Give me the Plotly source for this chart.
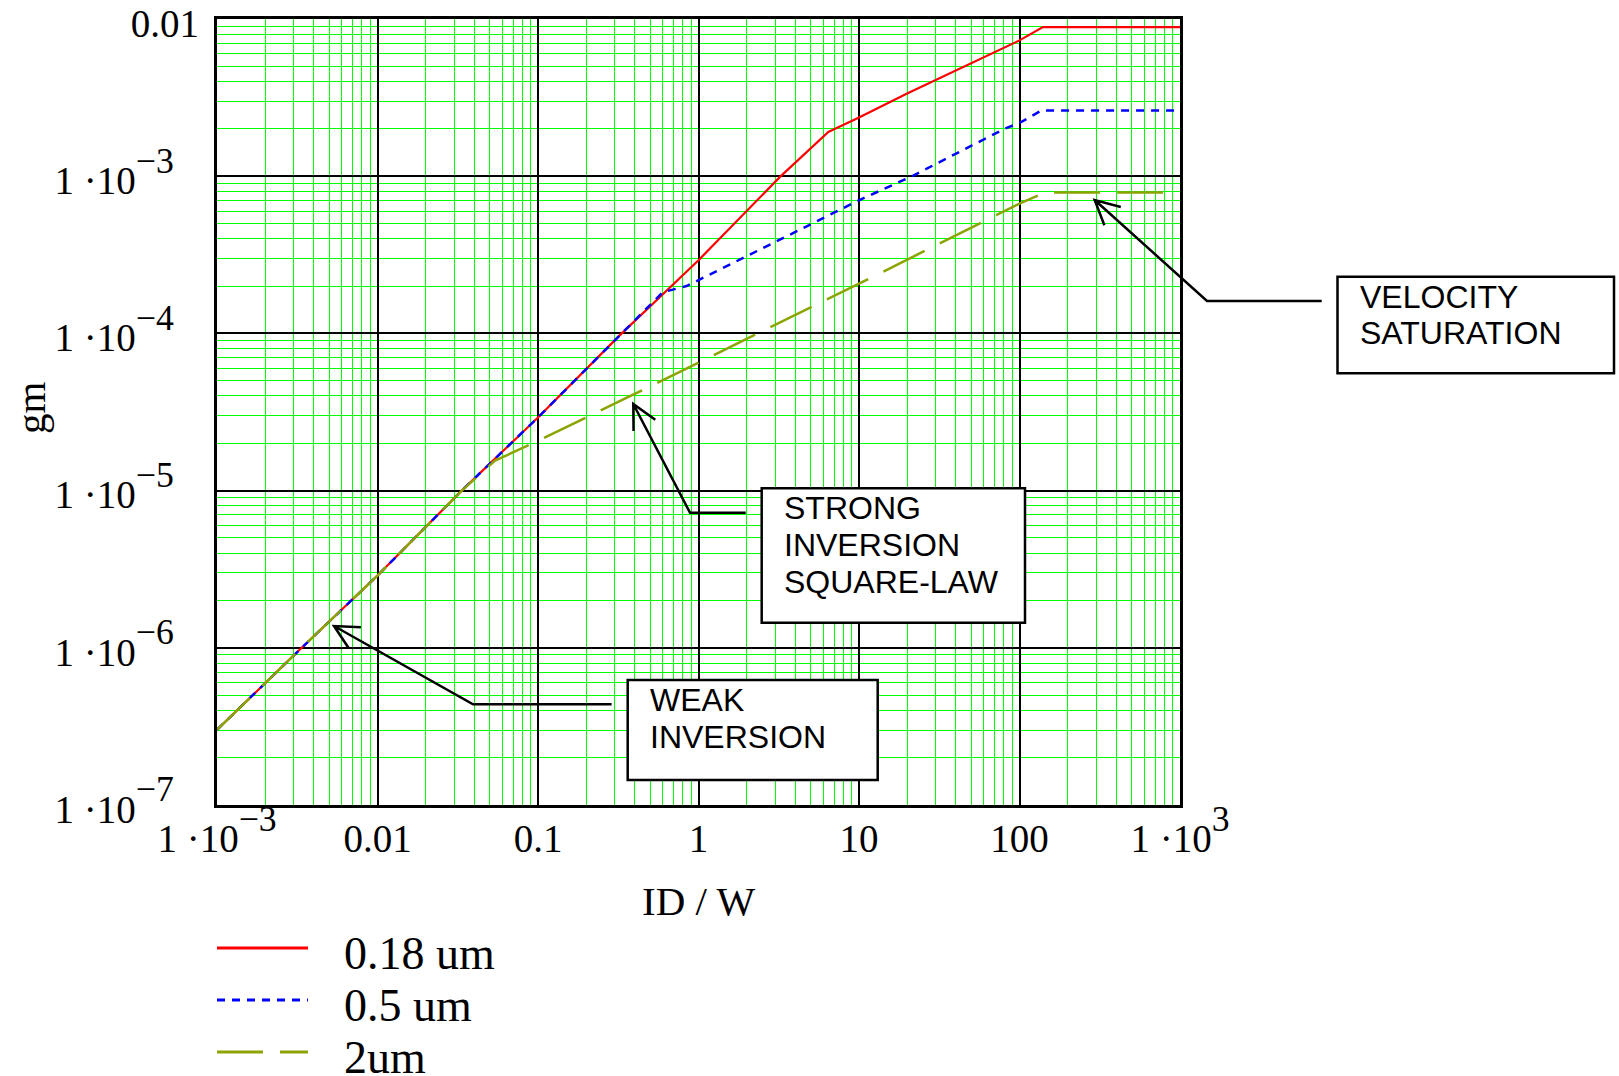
import math
import plotly.graph_objects as go

# gm versus drain current density ID/W for three channel lengths
series_names = ["0.18 um", "0.5 um", "2um"]

id_w_018 = [1e-3, 3.37e-3, 0.01, 0.0335, 0.1, 0.324, 1.0, 3.22, 6.44, 10, 19.8, 46.9, 100, 140, 1000]
gm_018 = [3.01e-7, 1.0e-6, 2.88e-6, 1.0e-5, 2.92e-5, 9.75e-5, 2.92e-4, 9.9e-4, 1.91e-3,
          2.36e-3, 3.35e-3, 5.07e-3, 7.31e-3, 8.89e-3, 8.89e-3]

id_w_05 = [1e-3, 3.37e-3, 0.01, 0.0335, 0.1, 0.324, 0.6, 0.843, 1.0, 10, 21.8, 81.3, 100, 137, 1000]
gm_05 = [3.01e-7, 1.0e-6, 2.88e-6, 1.0e-5, 2.92e-5, 9.75e-5, 1.83e-4, 2.0e-4, 2.18e-4,
         7.03e-4, 1.01e-3, 2.01e-3, 2.18e-3, 2.62e-3, 2.62e-3]

id_w_2 = [1e-3, 3.37e-3, 0.01, 0.0335, 0.054, 0.1, 0.366, 1.0, 10, 100, 144, 1000]
gm_2 = [3.01e-7, 1.0e-6, 2.88e-6, 1.0e-5, 1.55e-5, 2.07e-5, 3.94e-5, 6.53e-5,
        2.07e-4, 6.7e-4, 7.87e-4, 7.87e-4]

x_tick_vals = [1e-3, 1e-2, 1e-1, 1, 10, 100, 1e3]
x_tick_main = ["1 ·10", "0.01", "0.1", "1", "10", "100", "1 ·10"]
x_tick_exp = ["−3", "", "", "", "", "", "3"]

y_tick_vals = [1e-7, 1e-6, 1e-5, 1e-4, 1e-3]
y_tick_main = ["1 ·10", "1 ·10", "1 ·10", "1 ·10", "1 ·10"]
y_tick_exp = ["−7", "−6", "−5", "−4", "−3"]
y_top_val = [1e-2]
y_top_text = ["0.01"]

callout_texts = [
    ["VELOCITY", "SATURATION"],
    ["STRONG", "INVERSION", "SQUARE-LAW"],
    ["WEAK", "INVERSION"],
]

SERIF = "Liberation Serif, Times New Roman, serif"
SANS = "Liberation Sans, Arial, sans-serif"
TICK_SIZE = 39
SUP_BASE = 51  # superscripts are rendered at 70% of this size

W, H = 1619, 1076
L, R, T, B = 217, 1180, 19, 805


def px(x):
    return (x - L) / (R - L)


def py(y):
    return (B - y) / (B - T)


def tick_label(main, exp=""):
    s = '<span style="font-size:%dpx">%s</span>' % (TICK_SIZE, main)
    if exp:
        s += "<sup>%s</sup>" % exp
    return s


styles = [
    dict(color="#ff0000", width=2.2, dash="solid"),
    dict(color="#0000ff", width=2.5, dash="8px,7px"),
    dict(color="#8ca300", width=2.5, dash="46px,17px"),
]
data = [(id_w_018, gm_018), (id_w_05, gm_05), (id_w_2, gm_2)]
# both y axes share one range; the last curve is drawn on the overlay axis
y_refs = ["y", "y", "y2"]

fig = go.Figure()
for (xs, ys), name, st, yr in zip(data, series_names, styles, y_refs):
    fig.add_trace(go.Scatter(x=xs, y=ys, mode="lines", name=name, line=st, yaxis=yr,
                             showlegend=False, hoverinfo="x+y+name"))

axis_common = dict(
    type="log", showline=True, linecolor="black", linewidth=3, mirror=True,
    showgrid=True, gridcolor="black", gridwidth=2, ticks="", zeroline=False,
    minor=dict(dtick="D1", showgrid=True, gridcolor="#00ff00", gridwidth=1, ticks=""),
    tickfont=dict(family=SERIF, size=SUP_BASE, color="black"), tickangle=0,
    automargin=False,
)

fig.update_xaxes(range=[-3, 3], tickmode="array", tickvals=x_tick_vals,
                 ticktext=[tick_label(m, e) for m, e in zip(x_tick_main, x_tick_exp)],
                 ticklabelstandoff=-17, **axis_common)
fig.update_layout(yaxis=dict(
    range=[-7, -2], tickmode="array", tickvals=y_tick_vals,
    ticktext=[tick_label(m, e) for m, e in zip(y_tick_main, y_tick_exp)],
    ticklabelstandoff=30, **axis_common))

# the plain top label sits closer to the frame than the power-of-ten labels
fig.update_layout(yaxis2=dict(
    type="log", range=[-7, -2], overlaying="y", side="left", anchor="x",
    showgrid=False, showline=False, zeroline=False, ticks="", automargin=False,
    tickmode="array", tickvals=y_top_val, ticktext=[tick_label(t) for t in y_top_text],
    tickfont=dict(family=SERIF, size=SUP_BASE, color="black"), ticklabelstandoff=17,
))

shapes = []
annotations = []

# axis titles
annotations.append(dict(x=0.5, y=py(901), xref="paper", yref="paper", text="ID / W",
                        showarrow=False, font=dict(family=SERIF, size=41, color="black"),
                        xanchor="center", yanchor="middle"))
annotations.append(dict(x=px(31), y=py(408), xref="paper", yref="paper", text="gm",
                        showarrow=False, textangle=-90,
                        font=dict(family=SERIF, size=41, color="black"),
                        xanchor="center", yanchor="middle"))

# callout boxes with elbow arrows
callouts = [
    dict(box=(1337.5, 276.7, 1614, 373.3), text_x=1359, first_cap=285, start=(1321.7, 301),
         elbow=(1207, 301), tip=(1094.7, 200)),
    dict(box=(761.7, 488.3, 1025, 622.7), text_x=783.3, first_cap=496.7, start=(745.7, 512.7),
         elbow=(690, 512.7), tip=(633.3, 404)),
    dict(box=(627.7, 680, 877.7, 780), text_x=648.7, first_cap=688.3, start=(611.6, 704.3),
         elbow=(473, 704.3), tip=(334, 626)),
]
CAP_H = 23
LINE_STEP = 36.7
HEAD_LEN = 27
HEAD_ANG = math.radians(27)

for c, lines in zip(callouts, callout_texts):
    x0, y0, x1, y1 = c["box"]
    shapes.append(dict(type="rect", xref="paper", yref="paper", x0=px(x0), x1=px(x1),
                       y0=py(y0), y1=py(y1), line=dict(color="black", width=2.5),
                       fillcolor="white", layer="above"))
    for i, t in enumerate(lines):
        cy = c["first_cap"] + i * LINE_STEP + CAP_H / 2
        annotations.append(dict(x=px(c["text_x"]), y=py(cy), xref="paper", yref="paper",
                                text=t, showarrow=False, xanchor="left", yanchor="middle",
                                font=dict(family=SANS, size=32, color="black"),
                                borderpad=0))
    sx, sy = c["start"]
    ex, ey = c["elbow"]
    tx, ty = c["tip"]
    dx, dy = ex - tx, ey - ty
    n = math.hypot(dx, dy)
    ux, uy = dx / n, dy / n
    arms = []
    for s in (1, -1):
        ca, sa = math.cos(s * HEAD_ANG), math.sin(s * HEAD_ANG)
        rx, ry = ux * ca - uy * sa, ux * sa + uy * ca
        arms.append((tx + HEAD_LEN * rx, ty + HEAD_LEN * ry))
    path = "M%.5f,%.5f L%.5f,%.5f L%.5f,%.5f M%.5f,%.5f L%.5f,%.5f L%.5f,%.5f" % (
        px(sx), py(sy), px(ex), py(ey), px(tx), py(ty),
        px(arms[0][0]), py(arms[0][1]), px(tx), py(ty), px(arms[1][0]), py(arms[1][1]))
    shapes.append(dict(type="path", xref="paper", yref="paper", path=path,
                       line=dict(color="black", width=2.5), layer="above"))

# legend drawn below the plot
legend_rows = [948, 1000, 1052]
for name, st, ly in zip(series_names, styles, legend_rows):
    shapes.append(dict(type="line", xref="paper", yref="paper", x0=px(217), x1=px(308),
                       y0=py(ly), y1=py(ly),
                       line=dict(color=st["color"], width=3, dash=st["dash"])))
    annotations.append(dict(x=px(342), y=py(ly + 5), xref="paper", yref="paper", text=name,
                            showarrow=False, xanchor="left", yanchor="middle",
                            font=dict(family=SERIF, size=46, color="black")))

fig.update_layout(
    width=W, height=H, autosize=False,
    margin=dict(l=L, r=W - R, t=T, b=H - B, pad=0),
    paper_bgcolor="white", plot_bgcolor="white",
    shapes=shapes, annotations=annotations, showlegend=False,
)

fig.write_html("out.html")
